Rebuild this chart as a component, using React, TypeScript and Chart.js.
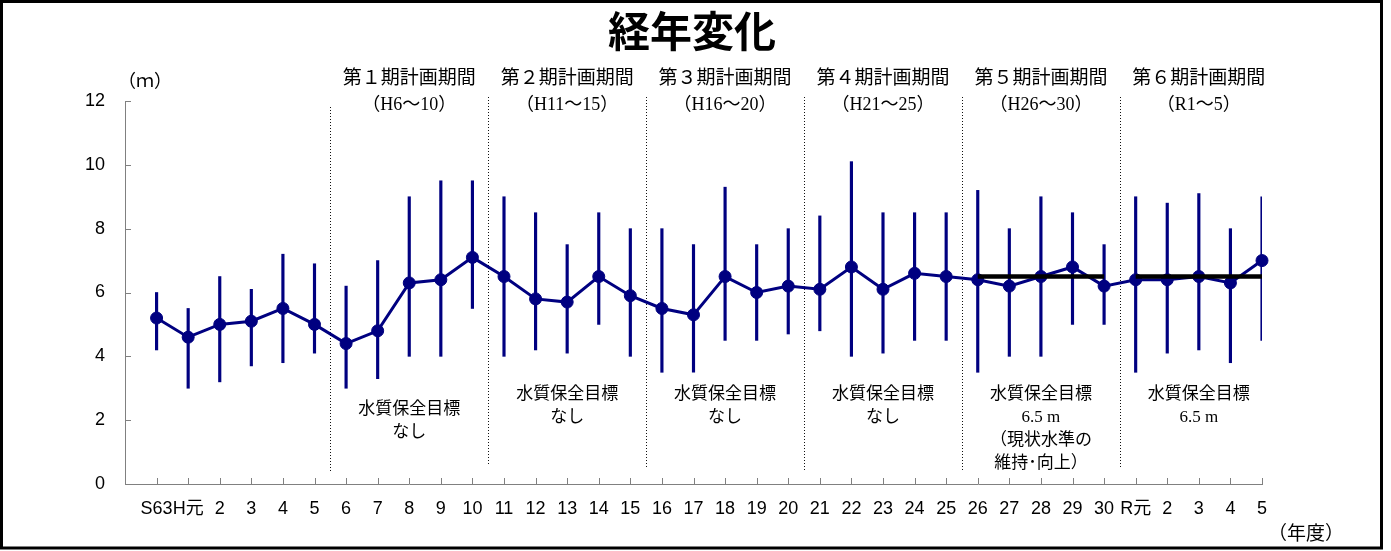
import React, { useEffect, useRef } from 'react';
import { Chart, registerables } from 'chart.js';

Chart.register(...registerables);

// ---- data ----
const years = [
  'S63', 'H元', '2', '3', '4', '5', '6', '7', '8', '9', '10',
  '11', '12', '13', '14', '15', '16', '17', '18', '19', '20',
  '21', '22', '23', '24', '25', '26', '27', '28', '29', '30',
  'R元', '2', '3', '4', '5',
];
const meanDepth = [
  5.2, 4.6, 5.0, 5.1, 5.5, 5.0, 4.4, 4.8, 6.3, 6.4, 7.1,
  6.5, 5.8, 5.7, 6.5, 5.9, 5.5, 5.3, 6.5, 6.0, 6.2,
  6.1, 6.8, 6.1, 6.6, 6.5, 6.4, 6.2, 6.5, 6.8, 6.2,
  6.4, 6.4, 6.5, 6.3, 7.0,
];
const maxDepth = [
  6.0, 5.5, 6.5, 6.1, 7.2, 6.9, 6.2, 7.0, 9.0, 9.5, 9.5,
  9.0, 8.5, 7.5, 8.5, 8.0, 8.0, 7.5, 9.3, 7.5, 8.0,
  8.4, 10.1, 8.5, 8.5, 8.5, 9.2, 8.0, 9.0, 8.5, 7.5,
  9.0, 8.8, 9.1, 8.0, 9.0,
];
const minDepth = [
  4.2, 3.0, 3.2, 3.7, 3.8, 4.1, 3.0, 3.3, 4.0, 4.0, 5.5,
  4.0, 4.2, 4.1, 5.0, 4.0, 3.5, 3.5, 4.5, 4.5, 4.7,
  4.8, 4.0, 4.1, 4.5, 4.5, 3.5, 4.0, 4.0, 5.0, 5.0,
  3.5, 4.1, 4.2, 3.8, 4.5,
];
const targetPeriod5 = [
  null, null, null, null, null, null, null, null, null, null, null,
  null, null, null, null, null, null, null, null, null, null,
  null, null, null, null, null, 6.5, 6.5, 6.5, 6.5, 6.5,
  null, null, null, null, null,
];
const targetPeriod6 = [
  null, null, null, null, null, null, null, null, null, null, null,
  null, null, null, null, null, null, null, null, null, null,
  null, null, null, null, null, null, null, null, null, null,
  6.5, 6.5, 6.5, 6.5, 6.5,
];
const yTickValues = [0, 2, 4, 6, 8, 10, 12];

const periodTitles = ['第１期計画期間', '第２期計画期間', '第３期計画期間', '第４期計画期間', '第５期計画期間', '第６期計画期間'];
const periodRanges = ['（H6～10）', '（H11～15）', '（H16～20）', '（H21～25）', '（H26～30）', '（R1～5）'];
const periodStartIndex = [6, 11, 16, 21, 26, 31];
const periodGoals = [
  ['水質保全目標', 'なし'],
  ['水質保全目標', 'なし'],
  ['水質保全目標', 'なし'],
  ['水質保全目標', 'なし'],
  ['水質保全目標', '6.5 m', '（現状水準の', '維持･向上）'],
  ['水質保全目標', '6.5 m'],
];

// ---- styles ----
const NAVY = '#000080';
const SANS = "'Liberation Sans', 'Noto Sans CJK JP', sans-serif";
const CJK = "'Noto Sans CJK JP', sans-serif";
const SERIF_CJK = "'Liberation Serif', 'Noto Sans CJK JP', serif";
const goalTopY = [410, 395, 395, 395, 395, 395];
const dividerTopY = [107, 97, 97, 97, 97, 97];
const dividerBottomY = [472, 466, 468, 470, 470, 468];

const decorPlugin = {
  id: 'decor',
  beforeDraw(chart: any) {
    const ctx = chart.ctx;
    ctx.save();
    ctx.fillStyle = '#fff';
    ctx.fillRect(0, 0, chart.width, chart.height);
    ctx.restore();
  },
  beforeDatasetsDraw(chart: any) {
    const ctx = chart.ctx;
    const xs = chart.scales.x;
    ctx.save();
    ctx.strokeStyle = '#111';
    ctx.lineWidth = 1;
    ctx.setLineDash([1, 2]);
    periodStartIndex.forEach((s, i) => {
      const x = Math.round(xs.getPixelForValue(s + 0.5)) + 0.5;
      ctx.beginPath();
      ctx.moveTo(x, dividerTopY[i]);
      ctx.lineTo(x, dividerBottomY[i]);
      ctx.stroke();
    });
    ctx.restore();
  },
  afterDraw(chart: any) {
    const ctx = chart.ctx;
    const xs = chart.scales.x;
    const ys = chart.scales.y;
    const area = chart.chartArea;
    ctx.save();
    // inward ticks
    ctx.strokeStyle = '#808080';
    ctx.lineWidth = 1;
    ctx.setLineDash([]);
    yTickValues.forEach((v) => {
      const y = Math.round(ys.getPixelForValue(v)) + 0.5;
      ctx.beginPath();
      ctx.moveTo(area.left, y);
      ctx.lineTo(area.left + 6, y);
      ctx.stroke();
    });
    years.forEach((_, i) => {
      const x = Math.round(xs.getPixelForValue(i + 1)) + 0.5;
      ctx.beginPath();
      ctx.moveTo(x, area.bottom);
      ctx.lineTo(x, area.bottom - 6);
      ctx.stroke();
    });

    // texts
    ctx.fillStyle = '#000';
    ctx.textAlign = 'center';
    ctx.textBaseline = 'middle';
    ctx.font = `bold 42px ${CJK}`;
    ctx.fillText('経年変化', 692, 31);

    ctx.font = `18px ${CJK}`;
    ctx.fillText('（ｍ）', 145, 80);
    ctx.font = `19px ${CJK}`;
    ctx.fillText('（年度）', 1306, 533);

    periodStartIndex.forEach((s, i) => {
      const cx = xs.getPixelForValue(s + 3);
      ctx.font = `19px ${SERIF_CJK}`;
      ctx.fillText(periodTitles[i], cx, 79);
      ctx.font = `18px ${SERIF_CJK}`;
      ctx.fillText(periodRanges[i], cx, 105);
      periodGoals[i].forEach((t, j) => {
        ctx.font = `17px ${SERIF_CJK}`;
        ctx.fillText(t, cx, goalTopY[i] + j * 23);
      });
    });

    // outer frame
    ctx.strokeStyle = '#000';
    ctx.lineWidth = 3;
    ctx.strokeRect(1.5, 1.5, 1380, 546.5);
    ctx.restore();
  },
};

export default function App() {
  const ref = useRef<HTMLCanvasElement>(null);
  useEffect(() => {
    document.body.style.margin = '0';
    const canvas = ref.current;
    if (!canvas) return;
    const labels = ['', ...years];
    const withLead = (arr: any[]) => [null, ...arr];
    const chart = new Chart(canvas, {
      type: 'line',
      data: {
        labels,
        datasets: [
          {
            type: 'line',
            label: '目標（第５期）',
            data: withLead(targetPeriod5),
            borderColor: '#000',
            borderWidth: 4.5,
            pointRadius: 0,
            spanGaps: false,
            order: 0,
          },
          {
            type: 'line',
            label: '目標（第６期）',
            data: withLead(targetPeriod6),
            borderColor: '#000',
            borderWidth: 4.5,
            pointRadius: 0,
            spanGaps: false,
            order: 0,
          },
          {
            type: 'line',
            label: '平均',
            data: withLead(meanDepth),
            borderColor: NAVY,
            backgroundColor: NAVY,
            borderWidth: 3,
            tension: 0,
            pointRadius: 6,
            pointBorderWidth: 1,
            pointBackgroundColor: NAVY,
            pointBorderColor: NAVY,
            order: 1,
          },
          {
            type: 'bar',
            label: '範囲',
            data: withLead(minDepth.map((m, i) => [m, maxDepth[i]])),
            backgroundColor: NAVY,
            borderWidth: 0,
            barThickness: 2.5,
            order: 2,
          },
        ] as any,
      },
      options: {
        animation: false,
        responsive: false,
        devicePixelRatio: 1,
        layout: { padding: { left: 0, right: 129, top: 101, bottom: 0 } },
        plugins: {
          legend: { display: false },
          tooltip: { enabled: false },
          title: { display: false },
        },
        scales: {
          x: {
            type: 'category',
            offset: false,
            grid: { display: false, offset: false, drawTicks: false },
            border: { display: true, color: '#808080', width: 1 },
            ticks: {
              autoSkip: false,
              maxRotation: 0,
              minRotation: 0,
              padding: 14,
              color: '#000',
              font: { family: SANS, size: 18 },
            },
            afterFit: (s: any) => {
              s.height = 67;
            },
          },
          y: {
            min: 0,
            max: 12,
            grid: { display: false, drawTicks: false },
            border: { display: true, color: '#808080', width: 1 },
            ticks: {
              stepSize: 2,
              padding: 20,
              color: '#000',
              font: { family: SANS, size: 18 },
            },
            afterFit: (s: any) => {
              s.width = 125;
            },
          },
        },
      } as any,
      plugins: [decorPlugin],
    });
    return () => chart.destroy();
  }, []);
  return <canvas ref={ref} width={1391} height={551} style={{ display: 'block' }} />;
}
